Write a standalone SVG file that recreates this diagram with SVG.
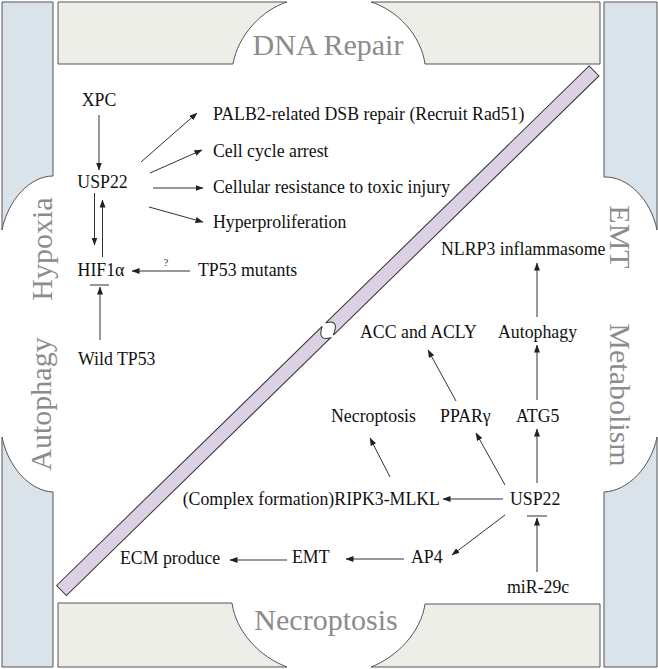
<svg xmlns="http://www.w3.org/2000/svg" width="658" height="669" viewBox="0 0 658 669">
<style>
.blue{fill:#dbe3ea;stroke:#555;stroke-width:1}
.beige{fill:#eeeee8;stroke:#555;stroke-width:1}
.bar{fill:#dcd0e4;stroke:#333;stroke-width:1}
.sec{font-family:"Liberation Serif",serif;font-size:30px;fill:#8c8c8c}
.n{font-family:"Liberation Serif",serif;font-size:17.8px;fill:#111}
.c line{stroke:#333;stroke-width:1}
.a{marker-end:url(#ah)}
</style>
<defs>
<marker id="ah" markerUnits="userSpaceOnUse" markerWidth="8" markerHeight="6" refX="7.5" refY="3" orient="auto">
<path d="M0,0 L8,3 L0,6 Z" fill="#222"/>
</marker>
</defs>
<rect width="658" height="669" fill="#fff"/>
<g id="panels">
<path class="blue" d="M2,2 H53 V176 C30,176 8,200 2,230 Z"/>
<path class="blue" d="M2,437 C8,467 30,491 53,492 V667 H2 Z"/>
<path class="blue" d="M604,2 H657 V230 C651,200 628,176 604,177 Z"/>
<path class="blue" d="M657,437 C651,467 628,491 604,492 V667 H657 Z"/>
<path class="beige" d="M58,2 H287 C262,10 238,35 233,64 H58 Z"/>
<path class="beige" d="M371,2 H600 V64 H425 C421,35 397,10 371,2 Z"/>
<path class="beige" d="M58,603 H232 C236,632 260,657 287,667 H58 Z"/>
<path class="beige" d="M371,667 C397,657 421,632 425,604 H600 V667 Z"/>
</g>
<g id="divider" transform="translate(61.5,590.5) rotate(-44.29)">
<path class="bar" d="M0,-7 L371,-7 Q357,0 369,7 L0,7 Z"/>
<path class="bar" d="M376,-7 Q389,0 373,7 L744,7 L744,-7 Z"/>
</g>
<g id="sections">
<text class="sec" x="328" y="55" text-anchor="middle">DNA Repair</text>
<text class="sec" x="326" y="630" text-anchor="middle">Necroptosis</text>
<text class="sec" transform="translate(52,249) rotate(-90)" text-anchor="middle">Hypoxia</text>
<text class="sec" transform="translate(51,404) rotate(-90)" text-anchor="middle">Autophagy</text>
<text class="sec" transform="translate(610,237) rotate(90)" text-anchor="middle">EMT</text>
<text class="sec" transform="translate(610,395) rotate(90)" text-anchor="middle">Metabolism</text>
</g>
<g id="connectors" class="c">
<line class="a" x1="99" y1="115" x2="99" y2="170"/>
<line class="a" x1="141" y1="162" x2="197" y2="113"/>
<line class="a" x1="150" y1="173" x2="202" y2="150"/>
<line class="a" x1="153" y1="188" x2="203" y2="188"/>
<line class="a" x1="149" y1="207" x2="203" y2="222"/>
<line class="a" x1="94.5" y1="193" x2="94.5" y2="245"/>
<line class="a" x1="102.5" y1="257" x2="102.5" y2="200"/>
<line class="a" x1="190" y1="271" x2="132" y2="271"/>
<line x1="90" y1="285" x2="109" y2="285"/>
<line class="a" x1="100" y1="340" x2="100" y2="287"/>
<line class="a" x1="537" y1="317" x2="537" y2="263"/>
<line class="a" x1="537" y1="400" x2="537" y2="345"/>
<line class="a" x1="456" y1="401" x2="428" y2="350"/>
<line class="a" x1="390" y1="477" x2="370" y2="438"/>
<line class="a" x1="505" y1="485" x2="476" y2="433"/>
<line class="a" x1="537" y1="483" x2="537" y2="429"/>
<line class="a" x1="503" y1="499" x2="443" y2="499"/>
<line x1="527" y1="516" x2="547" y2="516"/>
<line class="a" x1="537" y1="572" x2="537" y2="518"/>
<line class="a" x1="505" y1="515" x2="452" y2="555"/>
<line class="a" x1="404" y1="559" x2="346" y2="559"/>
<line class="a" x1="287" y1="560" x2="230" y2="560"/>
</g>
<g id="xpc"><text class="n" x="99" y="106" text-anchor="middle">XPC</text></g>
<g id="usp22-top"><text class="n" x="102.5" y="188" text-anchor="middle">USP22</text></g>
<g id="hif1a"><text class="n" x="101" y="276" text-anchor="middle">HIF1α</text></g>
<g id="tp53-mut"><text class="n" x="198" y="276">TP53 mutants</text></g>
<g id="q"><text x="166" y="266" text-anchor="middle" style="font-family:'Liberation Serif',serif;font-size:11px;fill:#333">?</text></g>
<g id="wild-tp53"><text class="n" x="78" y="365">Wild TP53</text></g>
<g id="palb2"><text class="n" x="213" y="120">PALB2-related DSB repair (Recruit Rad51)</text></g>
<g id="cellcycle"><text class="n" x="213" y="157">Cell cycle arrest</text></g>
<g id="resistance"><text class="n" x="213" y="193">Cellular resistance to toxic injury</text></g>
<g id="hyper"><text class="n" x="213" y="228">Hyperproliferation</text></g>
<g id="nlrp3"><text class="n" x="441" y="255">NLRP3 inflammasome</text></g>
<g id="acc"><text class="n" x="360" y="338">ACC and ACLY</text></g>
<g id="autophagy"><text class="n" x="498" y="338">Autophagy</text></g>
<g id="necroptosis"><text class="n" x="331" y="422">Necroptosis</text></g>
<g id="ppar"><text class="n" x="440" y="422">PPARγ</text></g>
<g id="atg5"><text class="n" x="516" y="422">ATG5</text></g>
<g id="ripk3"><text class="n" x="440" y="505" text-anchor="end">(Complex formation)RIPK3-MLKL</text></g>
<g id="usp22-bot"><text class="n" x="510" y="505">USP22</text></g>
<g id="ap4"><text class="n" x="411" y="563">AP4</text></g>
<g id="emt"><text class="n" x="292" y="563">EMT</text></g>
<g id="ecm"><text class="n" x="120" y="564">ECM produce</text></g>
<g id="mir29c"><text class="n" x="507" y="593">miR-29c</text></g>
</svg>
